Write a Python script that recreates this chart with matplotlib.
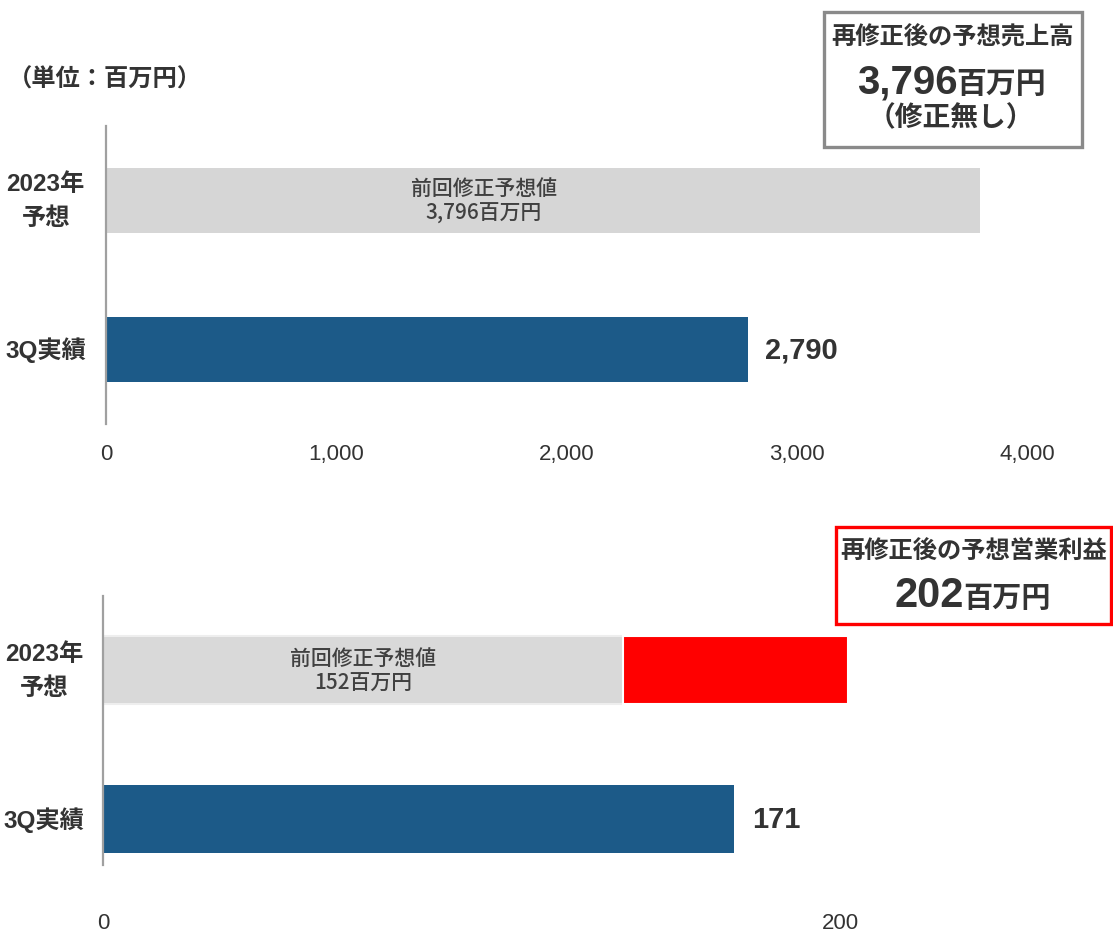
import matplotlib.pyplot as plt
from matplotlib.patches import Rectangle
from matplotlib.transforms import blended_transform_factory

plt.rcParams['font.family'] = ['Liberation Sans', 'Noto Sans CJK JP']

# data
categories = ['3Q実績', '2023年\n予想']
sales_actual = 2790
sales_prev_forecast = 3796
sales_revised = 3796
op_actual = 171
op_prev_bar = 141          # drawn length of the grey bar in the picture
op_revised = 202
sales_ticks = [0, 1000, 2000, 3000, 4000]
op_ticks = [0, 200]

txt = '#333333'
grey = '#d6d6d6'
blue = '#1c5a88'
red = '#ff0000'
W, H = 1113, 945

fig = plt.figure(figsize=(W / 100, H / 100), dpi=100)


def fx(px):
    return px / W


def fy(py):
    return 1 - py / H


def setup(ax, ticks, xlim, spine_low, labx):
    ax.set_xlim(*xlim)
    ax.set_ylim(-0.5, 1.5)
    for s in ['top', 'right', 'bottom']:
        ax.spines[s].set_visible(False)
    ax.spines['left'].set_color('#a0a0a0')
    ax.spines['left'].set_linewidth(1.6)
    ax.spines['left'].set_bounds(spine_low, 1.5)
    ax.set_yticks([])
    ax.set_xticks(ticks)
    ax.set_xticklabels([f'{t:,}' for t in ticks])
    ax.tick_params(axis='x', length=0, pad=14, labelsize=16, labelcolor=txt)
    tr = blended_transform_factory(ax.transAxes, ax.transData)
    for i, c in enumerate(categories):
        ax.text(labx, i, c, transform=tr, ha='center', va='center',
                fontsize=17.5, fontweight='bold', color=txt, linespacing=1.6)


# top: sales
ax1 = fig.add_axes([fx(106), fy(425), fx(1027 - 106), (425 - 127) / H])
setup(ax1, sales_ticks, (0, 4000), -0.5, -0.0655)
ax1.barh(1, sales_prev_forecast, height=0.43, color=grey)
ax1.barh(0, sales_actual, height=0.43, color=blue)
ax1.text(1640, 1, '前回修正予想値\n3,796百万円', ha='center', va='center',
         fontsize=15, color='#404040', linespacing=1.2,
         family=['Noto Sans CJK JP'], fontweight='medium')
ax1.text(sales_actual + 70, 0, f'{sales_actual:,}', ha='left', va='center',
         fontsize=21, fontweight='bold', color=txt)

# bottom: operating profit
ax2 = fig.add_axes([fx(103), fy(894), fx(922), (894 - 597) / H])
setup(ax2, op_ticks, (0, 250), -0.31, -0.064)
ax2.barh(1, op_prev_bar, height=0.46, color='#d9d9d9', edgecolor='#eeeeee', linewidth=1.5)
ax2.barh(1, op_revised - op_prev_bar, left=op_prev_bar, height=0.46, color=red,
         edgecolor='white', linewidth=1.5)
ax2.barh(0, op_actual, height=0.46, color=blue)
ax2.text(op_prev_bar / 2, 1, '前回修正予想値\n152百万円', ha='center', va='center',
         fontsize=15, color='#404040', linespacing=1.2,
         family=['Noto Sans CJK JP'], fontweight='medium')
ax2.text(op_actual + 5, 0, f'{op_actual}', ha='left', va='center',
         fontsize=21, fontweight='bold', color=txt)

# unit label
fig.text(fx(8), fy(80), '（単位：百万円）', ha='left', va='center',
         fontsize=17.5, fontweight='bold', color=txt)

# box: sales
fig.patches.append(Rectangle((fx(824), fy(148)), fx(1082 - 824), (148 - 13) / H,
                             transform=fig.transFigure, fill=False,
                             edgecolor='#8a8a8a', linewidth=2.4))
fig.text(fx(953), fy(38), '再修正後の予想売上高', ha='center', va='center',
         fontsize=17.5, fontweight='bold', color=txt)
fig.text(fx(958), fy(93), f'{sales_revised:,}', ha='right', va='baseline',
         fontsize=29, fontweight='bold', color=txt)
fig.text(fx(956), fy(93), '百万円', ha='left', va='baseline',
         fontsize=21.5, fontweight='bold', color=txt)
fig.text(fx(951), fy(119), '（修正無し）', ha='center', va='center',
         fontsize=20, fontweight='bold', color=txt)

# box: operating profit
fig.patches.append(Rectangle((fx(836), fy(625)), fx(1111 - 836), (625 - 528) / H,
                             transform=fig.transFigure, fill=False,
                             edgecolor=red, linewidth=2.4))
fig.text(fx(974), fy(552), '再修正後の予想営業利益', ha='center', va='center',
         fontsize=17.5, fontweight='bold', color=txt)
fig.text(fx(964), fy(607), f'{op_revised}', ha='right', va='baseline',
         fontsize=30, fontweight='bold', color=txt)
fig.text(fx(963), fy(607), '百万円', ha='left', va='baseline',
         fontsize=21, fontweight='bold', color=txt)

fig.savefig('out.png', dpi=100)
